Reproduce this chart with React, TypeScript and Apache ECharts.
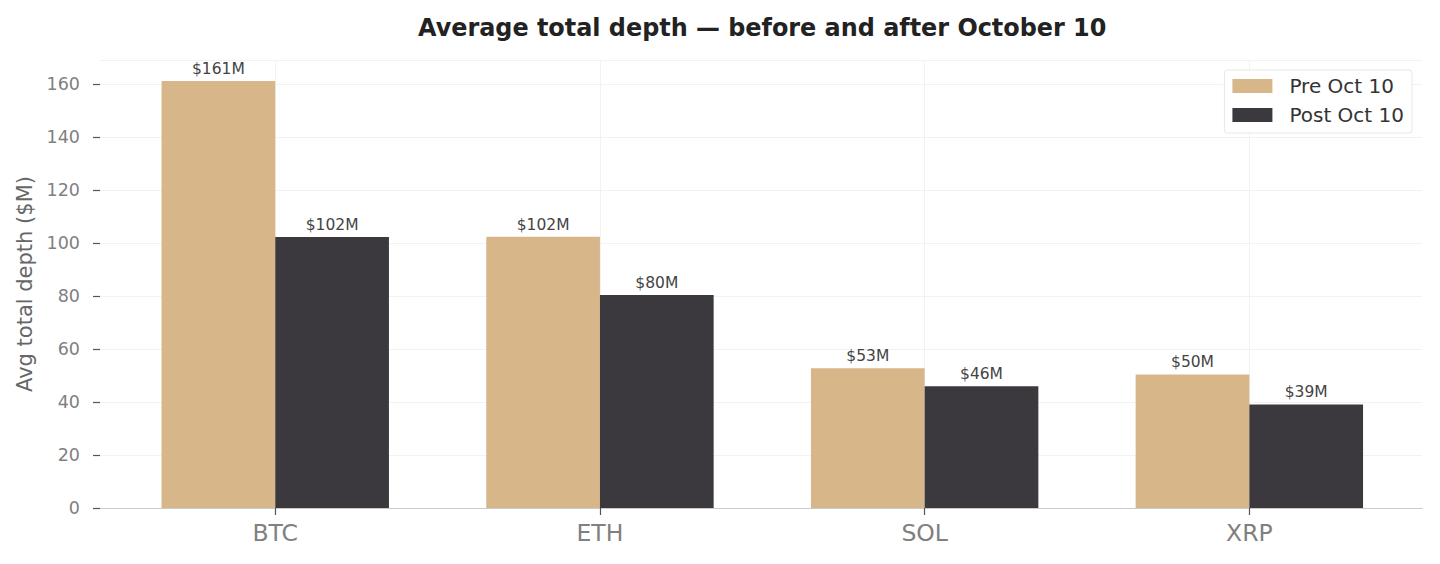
import React, { useEffect, useRef } from "react";
import * as echarts from "echarts";

const categories = ["BTC", "ETH", "SOL", "XRP"];
const preValues = [161.1, 102.4, 52.7, 50.4];
const postValues = [102.3, 80.4, 45.9, 39.1];
const seriesNames = ["Pre Oct 10", "Post Oct 10"];
const yTicks = { min: 0, max: 169.05, interval: 20 };

const FONT = "DejaVu Sans";
const PRE_COLOR = "#d7b78a";
const POST_COLOR = "#3b393d";

export default function App() {
  const ref = useRef<HTMLDivElement>(null);
  useEffect(() => {
    if (!ref.current) return;
    const chart = echarts.init(ref.current, null, { renderer: "svg" });
    const label = {
      show: true,
      position: "top",
      distance: 4,
      fontFamily: FONT,
      fontSize: 15.5,
      color: "#444",
      formatter: (p: any) => "$" + Math.round(p.value) + "M",
    };
    chart.setOption({
      animation: false,
      backgroundColor: "#fff",
      textStyle: { fontFamily: FONT },
      title: {
        text: "Average total depth — before and after October 10",
        left: 413,
        top: 11,
        textStyle: { fontFamily: FONT, fontSize: 23.9, fontWeight: "bold", color: "#222" },
      },
      legend: {
        orient: "vertical",
        right: 28,
        top: 70,
        itemWidth: 40,
        itemHeight: 14,
        itemGap: 9,
        padding: [6, 8, 8, 8],
        backgroundColor: "#fff",
        borderColor: "#e8e8e8",
        borderWidth: 1,
        borderRadius: 3,
        icon: "rect",
        textStyle: { fontFamily: FONT, fontSize: 20, color: "#333", padding: [0, 0, 0, 12] },
        data: seriesNames,
      },
      grid: [
        { left: 100, right: 18, top: 60, bottom: 56 },
        { left: 112.9, right: 28.3, top: 60, bottom: 56 },
      ],
      xAxis: [
        {
          type: "value",
          gridIndex: 0,
          min: 0,
          max: 1,
          axisLine: { show: true, lineStyle: { color: "#cccccc", width: 1.2 } },
          axisTick: { show: false },
          axisLabel: { show: false },
          splitLine: { show: false },
        },
        {
          type: "category",
          gridIndex: 1,
          data: categories,
          axisLine: { show: false },
          axisTick: { show: true, alignWithLabel: true, length: 7, lineStyle: { color: "#555", width: 1.2 } },
          axisLabel: { fontFamily: FONT, fontSize: 23.5, color: "#808080", margin: 13 },
          splitLine: { show: true, alignWithLabel: true, lineStyle: { color: "#f2f2f2", width: 1 } },
        },
      ],
      yAxis: [
        {
          type: "value",
          gridIndex: 0,
          min: yTicks.min,
          max: yTicks.max,
          interval: yTicks.interval,
          name: "Avg total depth ($M)",
          nameLocation: "middle",
          nameGap: 62,
          nameTextStyle: { fontFamily: FONT, fontSize: 21, color: "#666" },
          axisLine: { show: false },
          axisTick: { show: true, length: 7, lineStyle: { color: "#555", width: 1.2 } },
          axisLabel: {
            fontFamily: FONT,
            fontSize: 17.5,
            color: "#808080",
            margin: 20,
            showMaxLabel: false,
          },
          splitLine: { show: true, lineStyle: { color: "#f2f2f2", width: 1 } },
        },
        {
          type: "value",
          gridIndex: 1,
          min: yTicks.min,
          max: yTicks.max,
          interval: yTicks.interval,
          show: false,
          splitLine: { show: false },
        },
      ],
      series: [
        {
          name: seriesNames[0],
          type: "bar",
          xAxisIndex: 1,
          yAxisIndex: 1,
          data: preValues,
          barWidth: 113.7,
          barGap: "0%",
          itemStyle: { color: PRE_COLOR },
          label,
        },
        {
          name: seriesNames[1],
          type: "bar",
          xAxisIndex: 1,
          yAxisIndex: 1,
          data: postValues,
          barWidth: 113.7,
          barGap: "0%",
          itemStyle: { color: POST_COLOR },
          label,
        },
      ],
    });
    return () => chart.dispose();
  }, []);
  return (
    <div
      ref={ref}
      style={{ position: "fixed", left: 0, top: 0, width: 1440, height: 564 }}
    />
  );
}
